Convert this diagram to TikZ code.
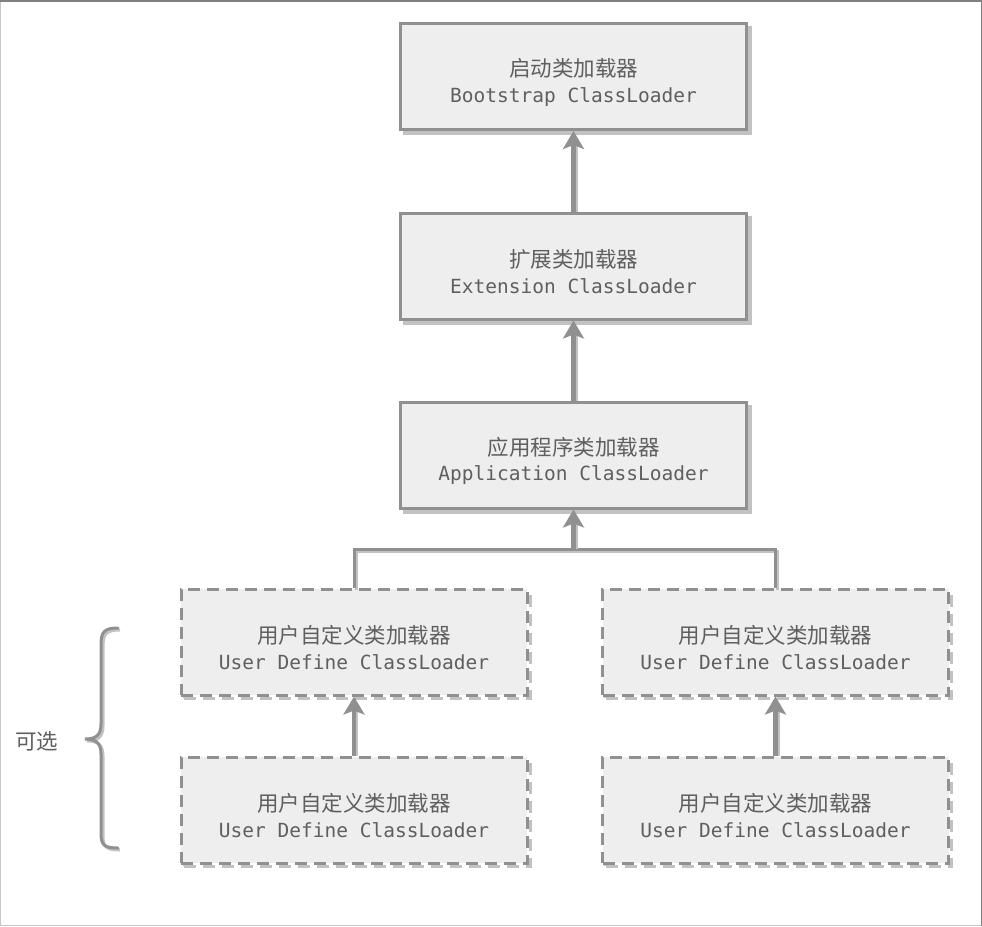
\documentclass[tikz,border=0pt]{standalone}
\usepackage{fontspec}
\setmonofont{DejaVu Sans Mono}
\newfontfamily\cjk{Noto Sans CJK SC}
\usetikzlibrary{arrows.meta}

\definecolor{linegray}{HTML}{909090}
\definecolor{shadowgray}{HTML}{C2C2C2}
\definecolor{fillgray}{HTML}{EEEEEE}
\definecolor{textgray}{HTML}{5F5F5F}

\newcommand{\loadertext}[2]{{\cjk\fontsize{21.5}{26}\selectfont\rule{0pt}{30pt}#1}\\[8pt]{\ttfamily\fontsize{19.5}{26}\selectfont #2}}

\tikzset{
  loaderbox/.style={rectangle, draw=linegray, fill=fillgray, line width=3pt,
    minimum width=346pt, minimum height=106pt, align=center, text=textgray,
    preaction={draw=shadowgray, fill=shadowgray, line width=3pt,
      transform canvas={shift={(4pt,-4pt)}}}},
  userbox/.style={rectangle, draw=linegray, fill=fillgray, line width=3pt,
    dash pattern=on 12pt off 7pt,
    minimum width=346pt, minimum height=106pt, align=center, text=textgray,
    preaction={draw=shadowgray, line width=3pt, dash pattern=on 12pt off 7pt,
      transform canvas={shift={(3pt,-3pt)}}}},
  link/.style={draw=linegray, line width=3pt,
    preaction={draw=shadowgray, line width=3pt,
      transform canvas={shift={(2pt,-2pt)}}}},
  uparrow/.style={draw=linegray, line width=4.5pt,
    preaction={draw=shadowgray, line width=3pt, arrows=-, shorten >=14pt,
      transform canvas={shift={(2.5pt,0pt)}}},
    -{Stealth[length=18pt,width=21pt,inset=4pt]}}
}

\begin{document}
\begin{tikzpicture}[x=1pt,y=-1pt]

\useasboundingbox (0,0) rectangle (982,926);
\draw[gray!45, line width=1pt] (0.5,0.5) rectangle (981.5,925.5);
\draw[gray, line width=1.5pt] (0,0.75) -- (981.25,0.75) -- (981.25,926);

% parent chain
\node[loaderbox] (boot) at (573.5,76.5) {\loadertext{启动类加载器}{Bootstrap ClassLoader}};
\node[loaderbox] (ext) at (573.5,266) {\loadertext{扩展类加载器}{Extension ClassLoader}};
\node[loaderbox] (app) at (573.5,455) {\loadertext{应用程序类加载器}{Application ClassLoader}};

% user defined loaders
\node[userbox] (userA) at (354,642) {\loadertext{用户自定义类加载器}{User Define ClassLoader}};
\node[userbox] (userB) at (775.5,642) {\loadertext{用户自定义类加载器}{User Define ClassLoader}};
\node[userbox] (userC) at (354,810) {\loadertext{用户自定义类加载器}{User Define ClassLoader}};
\node[userbox] (userD) at (775.5,810) {\loadertext{用户自定义类加载器}{User Define ClassLoader}};

\draw[uparrow] (ext.north) -- (boot.south);
\draw[uparrow] (app.north) -- (ext.south);

\coordinate (fork) at (573.5,549);
\draw[link] (userA.north) |- (fork) -| (userB.north);
\draw[uparrow] (fork) -- (app.south);

\draw[uparrow] (userC.north) -- (userA.south);
\draw[uparrow] (userD.north) -- (userB.south);

% optional brace
\draw[link, line cap=round] (118,628) .. controls (104,628) and (101,632) .. (101,645)
  -- (101,724) .. controls (101,735) and (96,739) .. (85,739)
  .. controls (96,739) and (101,743) .. (101,754)
  -- (101,833) .. controls (101,845) and (104,848) .. (118,848);
\node[text=textgray, font=\cjk\fontsize{21.5}{24}\selectfont] (optional) at (37,741) {可选};

\end{tikzpicture}
\end{document}
